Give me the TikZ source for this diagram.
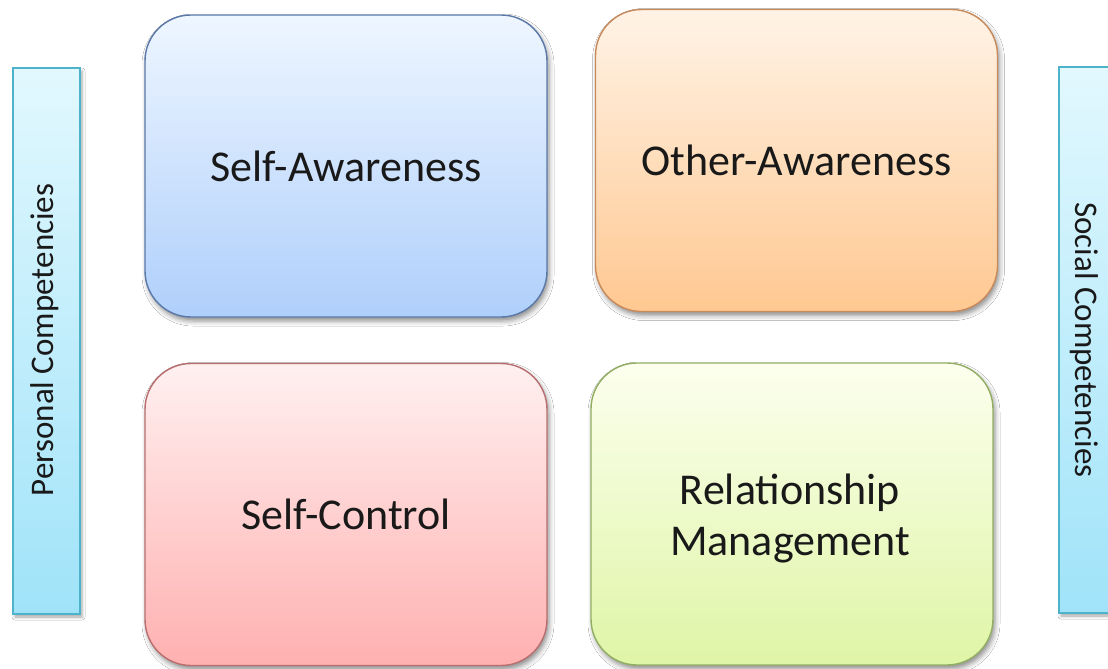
\documentclass[tikz,border=0pt]{standalone}
\usepackage{fontspec}
\setmainfont{Carlito}
\usetikzlibrary{shadows.blur}

\definecolor{saTop}{HTML}{EEF6FF}
\definecolor{saBot}{HTML}{AFCFFB}
\definecolor{saLine}{HTML}{5A78A8}
\definecolor{oaTop}{HTML}{FFF3E6}
\definecolor{oaBot}{HTML}{FFC891}
\definecolor{oaLine}{HTML}{C88A5A}
\definecolor{scTop}{HTML}{FFF0F0}
\definecolor{scBot}{HTML}{FFB0B0}
\definecolor{scLine}{HTML}{B86E6E}
\definecolor{rmTop}{HTML}{FCFFEE}
\definecolor{rmBot}{HTML}{DFF5A6}
\definecolor{rmLine}{HTML}{92AE62}
\definecolor{barTop}{HTML}{E2F8FE}
\definecolor{barBot}{HTML}{A0E3F9}
\definecolor{barLine}{HTML}{4DB3CB}

\tikzset{
  quad/.style={draw, line width=1.4pt, rounded corners=46pt, align=center,
    minimum width=402pt, minimum height=302pt, inner sep=0pt,
    font=\fontsize{44}{51}\selectfont, text=black!90,
    blur shadow={shadow xshift=2pt, shadow yshift=-4pt,
      shadow blur radius=5pt, shadow opacity=45}},
  sidebar/.style={draw=barLine, line width=1.4pt, top color=barTop, bottom color=barBot,
    minimum width=67pt, minimum height=546pt, inner sep=0pt,
    blur shadow={shadow xshift=2pt, shadow yshift=-3pt,
      shadow blur radius=3pt, shadow opacity=35}},
  sidetext/.style={font=\fontsize{33}{36}\selectfont, text=black!90, inner sep=0pt}
}

\begin{document}
\begin{tikzpicture}[x=1pt,y=-1pt]
  \useasboundingbox[fill=white] (0,0) rectangle (1108,669);

  % side bars
  \node[sidebar] (pc) at (46.5,341) {};
  \node[sidebar] (soc) at (1092.5,340) {};
  \node[sidetext, rotate=90] (pclabel) at (45,340) {Personal Competencies};
  \node[sidetext, rotate=-90] (soclabel) at (1084,340) {Social Competencies};

  % four competency boxes
  \node[quad, draw=saLine, top color=saTop, bottom color=saBot] (sa) at (346,166) {Self-Awareness};
  \node[quad, draw=oaLine, top color=oaTop, bottom color=oaBot] (oa) at (796.5,160.5) {Other-Awareness};
  \node[quad, draw=scLine, top color=scTop, bottom color=scBot] (sc) at (346,514.5) {Self-Control};
  \node[quad, draw=rmLine, top color=rmTop, bottom color=rmBot] (rm) at (792,514) {};
  \node[font=\fontsize{44}{51}\selectfont, text=black!90, align=center, inner sep=0pt]
    (rmlabel) at (790,518) {Relationship\\Management};
\end{tikzpicture}
\end{document}
